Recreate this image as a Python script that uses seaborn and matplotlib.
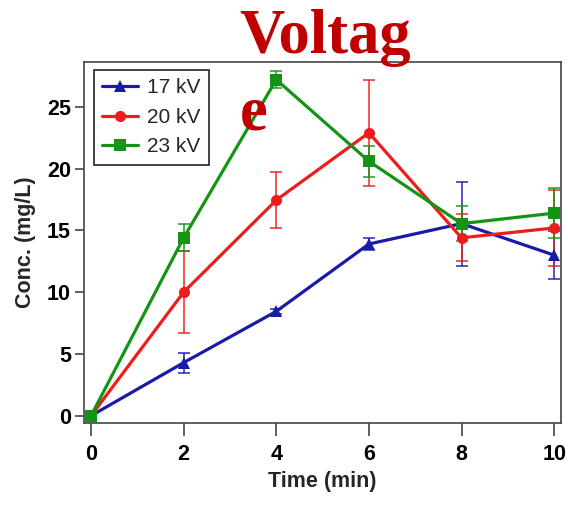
import pandas as pd
import matplotlib
matplotlib.use("Agg")
import matplotlib.pyplot as plt
import seaborn as sns

# Values
times = [0, 2, 4, 6, 8, 10]
series = ["17 kV", "20 kV", "23 kV"]
conc_17 = [0, 4.3, 8.45, 13.9, 15.55, 13.0]
err_17 = [0, 0.8, 0.2, 0.5, 3.4, 1.95]
conc_20 = [0, 10.0, 17.45, 22.9, 14.4, 15.2]
err_20 = [0, 3.3, 2.25, 4.3, 1.9, 3.1]
conc_23 = [0, 14.4, 27.2, 20.6, 15.55, 16.4]
err_23 = [0, 1.1, 0.7, 1.25, 1.4, 2.0]
title_lines = ["Voltag", "e"]

COLORS = {"17 kV": "#1a1aa8", "20 kV": "#ee1c1c", "23 kV": "#149414"}
MARKERS = {"17 kV": "^", "20 kV": "o", "23 kV": "s"}

sns.set_theme(style="ticks")
plt.rcParams["font.family"] = ["Liberation Sans", "DejaVu Sans"]
plt.rcParams.update({
    "axes.edgecolor": "#444444",
    "axes.linewidth": 1.2,
    "xtick.color": "#444444",
    "ytick.color": "#444444",
    "xtick.labelcolor": "black",
    "ytick.labelcolor": "black",
})

df = pd.DataFrame({
    "Time": times * 3,
    "Conc": conc_17 + conc_20 + conc_23,
    "Err": err_17 + err_20 + err_23,
    "Voltage": [s for s in series for _ in times],
})

fig = plt.figure(figsize=(5.68, 5.07), dpi=100)
ax = fig.add_axes([0.148, 0.166, 0.839, 0.712])

for name in series:
    sub = df[df["Voltage"] == name]
    ax.errorbar(sub["Time"], sub["Conc"], yerr=sub["Err"], fmt="none",
                ecolor=COLORS[name], elinewidth=1.3, capsize=4.5,
                capthick=1.3, alpha=0.8, zorder=2)

sns.lineplot(data=df, x="Time", y="Conc", hue="Voltage", style="Voltage",
             palette=COLORS, markers=MARKERS, dashes=False,
             linewidth=2.3, markersize=8, markeredgewidth=0,
             ax=ax, zorder=3)

ax.set_xlim(-0.15, 10.14)
ax.set_ylim(-0.57, 28.64)
ax.set_xticks([0, 2, 4, 6, 8, 10])
ax.set_yticks([0, 5, 10, 15, 20, 25])
ax.tick_params(axis="x", length=9.5, width=1.2, labelsize=15.5, pad=6)
ax.tick_params(axis="y", length=6.5, width=1.2, labelsize=15.5, pad=3)
for lbl in ax.get_xticklabels() + ax.get_yticklabels():
    lbl.set_fontweight("bold")

ax.set_xlabel("Time (min)", fontsize=15.5, fontweight="bold", labelpad=4)
ax.set_ylabel("Conc. (mg/L)", fontsize=15.5, fontweight="bold", labelpad=8)

leg = ax.legend(loc="upper left", bbox_to_anchor=(0.021, 0.977),
                borderaxespad=0, fontsize=15, handlelength=1.7,
                handletextpad=0.45, labelspacing=0.5, fancybox=False,
                framealpha=1, edgecolor="#222222", title=None)
leg.get_frame().set_linewidth(1.2)

# Title wraps onto a second line in the reference
title_kw = dict(color="#c00000", fontsize=45, fontweight="bold",
                family=["Liberation Serif", "DejaVu Serif"],
                ha="left", va="baseline")
fig.text(0.422, 0.8955, title_lines[0], **title_kw)
fig.text(0.422, 0.7436, title_lines[1], **title_kw)

fig.savefig("out.png", dpi=100)
